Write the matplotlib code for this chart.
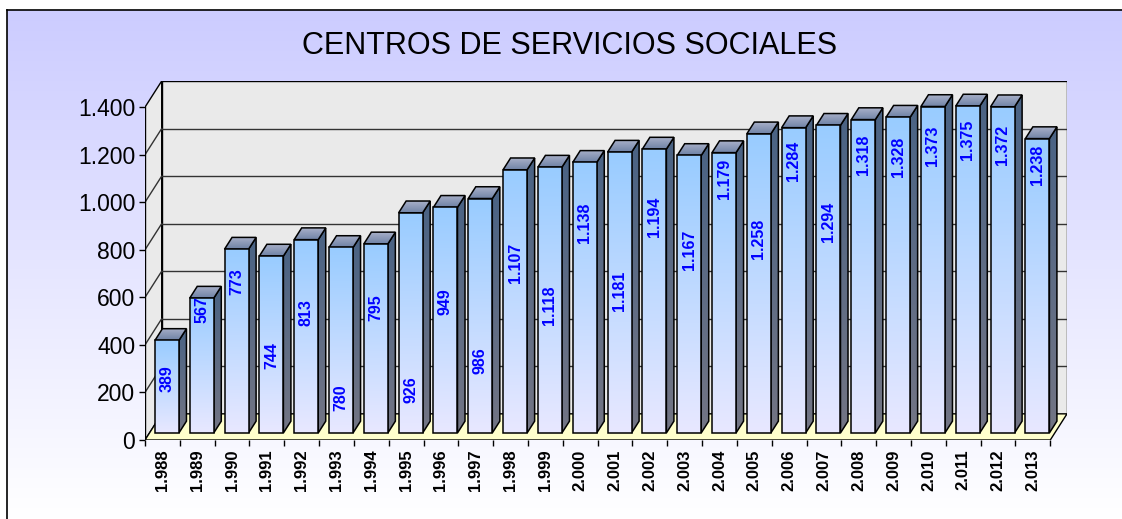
import numpy as np
import matplotlib
matplotlib.use('Agg')
import matplotlib.pyplot as plt
from matplotlib.patches import Polygon
from matplotlib.colors import to_rgb

plt.rcParams['font.family'] = ['Liberation Sans', 'DejaVu Sans']

# datos
years = [1988, 1989, 1990, 1991, 1992, 1993, 1994, 1995, 1996, 1997, 1998, 1999, 2000,
         2001, 2002, 2003, 2004, 2005, 2006, 2007, 2008, 2009, 2010, 2011, 2012, 2013]
centros = [389, 567, 773, 744, 813, 780, 795, 926, 949, 986, 1107, 1118, 1138,
           1181, 1194, 1167, 1179, 1258, 1284, 1294, 1318, 1328, 1373, 1375, 1372, 1238]
y_ticks = [0, 200, 400, 600, 800, 1000, 1200, 1400]
title = 'CENTROS DE SERVICIOS SOCIALES'

# where Excel happened to put each value label (value units, front face)
label_at = [227, 518, 638, 324, 505, 147, 526, 181, 552, 303, 716, 539, 884,
            598, 909, 771, 1069, 817, 1145, 888, 1171, 1162, 1208, 1234, 1213, 1128]


def fmt(n):
    return f'{n:,}'.replace(',', '.')


def grad_poly(ax, pts, c_top, c_bot, z):
    """polygon filled with a vertical gradient, black outline"""
    pts = np.array(pts)
    poly = Polygon(pts, closed=True, facecolor='none', edgecolor='black',
                   linewidth=1.1, zorder=z + 0.01)
    ax.add_patch(poly)
    t = np.linspace(0, 1, 64)[:, None]
    img = (1 - t) * np.array(to_rgb(c_top)) + t * np.array(to_rgb(c_bot))
    im = ax.imshow(img[:, None, :], extent=(pts[:, 0].min(), pts[:, 0].max(),
                                            pts[:, 1].min(), pts[:, 1].max()),
                   origin='upper', aspect='auto', interpolation='bilinear', zorder=z)
    im.set_clip_path(poly)


W, H = 1122, 519
fig = plt.figure(figsize=(W / 100, H / 100), dpi=100, facecolor='white')

# fondo degradado con marco
bg = fig.add_axes([7 / W, 0, 1 - 7 / W, 1 - 10 / H])
grad = np.linspace(0, 1, 256)[:, None]
bg_img = (1 - grad) * np.array(to_rgb('#CCCCFF')) + grad * np.array([1.0, 1.0, 1.0])
bg.imshow(bg_img[:, None, :], aspect='auto', extent=(0, 1, 0, 1), interpolation='bilinear')
bg.set_xlim(0, 1)
bg.set_ylim(0, 1)
bg.set_xticks([])
bg.set_yticks([])
for s in ['right', 'bottom']:
    bg.spines[s].set_visible(False)
for s in ['left', 'top']:
    bg.spines[s].set_linewidth(1.2)
bg.set_zorder(-5)

n = len(years)
DX, DY = 0.48, 110          # depth of the 3D box in data units
d0, d1 = 0.27, 0.72          # bar front/back depth fraction
bw = 0.69

ax = fig.add_axes([145 / W, 79 / H, 922 / W, 359 / H])
ax.set_facecolor('none')
for s in ax.spines.values():
    s.set_visible(False)

# paredes y suelo
ax.add_patch(Polygon([(DX, DY), (n + DX, DY), (n + DX, 1400 + DY), (DX, 1400 + DY)],
                     facecolor='#EAEAEA', edgecolor='black', linewidth=1.0, zorder=1))
ax.add_patch(Polygon([(0, 0), (DX, DY), (DX, 1400 + DY), (0, 1400)],
                     facecolor='#EAEAEA', edgecolor='black', linewidth=1.0, zorder=1))
ax.add_patch(Polygon([(0, 0), (n, 0), (n + DX, DY), (DX, DY)],
                     facecolor='#FFFFCC', edgecolor='black', linewidth=1.0, zorder=1))
for v in y_ticks[1:-1]:
    ax.plot([DX, n + DX], [v + DY, v + DY], color='#333333', lw=1.0, zorder=2)
    ax.plot([0, DX], [v, v + DY], color='#333333', lw=1.0, zorder=2)

# barras 3D
for i, v in enumerate(centros):
    x0 = i + 0.5 - bw / 2
    x1 = x0 + bw
    sx0, sy0 = DX * d0, DY * d0
    sx1, sy1 = DX * d1, DY * d1
    z = 5 + i * 0.1
    front = [(x0 + sx0, sy0), (x1 + sx0, sy0), (x1 + sx0, v + sy0), (x0 + sx0, v + sy0)]
    side = [(x1 + sx0, sy0), (x1 + sx1, sy1), (x1 + sx1, v + sy1), (x1 + sx0, v + sy0)]
    top = [(x0 + sx0, v + sy0), (x1 + sx0, v + sy0), (x1 + sx1, v + sy1), (x0 + sx1, v + sy1)]
    grad_poly(ax, side, '#4A6384', '#737584', z)
    grad_poly(ax, top, '#A8B0C8', '#6F82A6', z + 0.02)
    grad_poly(ax, front, '#99CCFF', '#E8E8FF', z + 0.04)
    ax.text(i + 0.5 + sx0, label_at[i] + sy0, fmt(v), rotation=90, ha='center', va='center',
            color='#0000FF', fontsize=11.5, fontweight='bold', zorder=20)

# ejes
ax.plot([0, 0], [0, 1400], color='black', lw=1.0, zorder=3)
ax.set_xlim(0, n + DX)
ax.set_ylim(0, 1400 + DY)
ax.set_yticks(y_ticks)
ax.set_yticklabels([fmt(t) for t in y_ticks], fontsize=16.5)
ax.tick_params(axis='y', length=4, width=1.0, pad=3)
ax.set_xticks(np.arange(n) + 0.5)
ax.set_xticklabels([fmt(y) for y in years], rotation=90, fontsize=12, fontweight='bold')
ax.set_xticks(np.arange(n + 1), minor=True)
ax.tick_params(axis='x', which='major', length=0, pad=7)
ax.tick_params(axis='x', which='minor', length=4, width=1.0)

fig.text(570 / W, 1 - 46 / H, title, ha='center', va='center', fontsize=22)

fig.savefig('out.png', dpi=100)
